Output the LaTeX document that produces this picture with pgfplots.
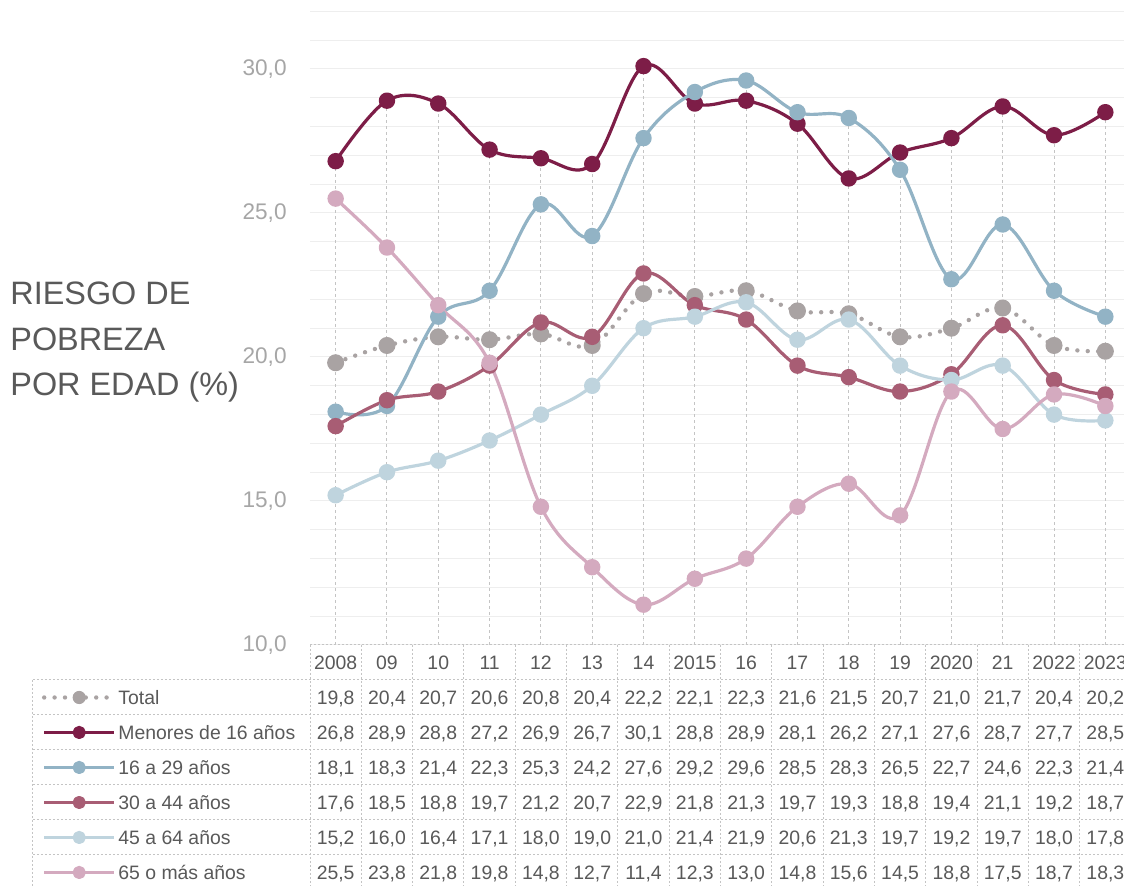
\documentclass[border=0pt]{standalone}
\usepackage{fontspec}
\setmainfont{Liberation Sans}
\usepackage{pgfplots}
\usepackage{pgfplotstable}
\pgfplotsset{compat=1.18}

\definecolor{cTot}{HTML}{A9A3A3}
\definecolor{cMen}{HTML}{7D1D47}
\definecolor{c16}{HTML}{92B3C5}
\definecolor{c30}{HTML}{A85D74}
\definecolor{c45}{HTML}{BFD4DE}
\definecolor{c65}{HTML}{D4AABF}
\definecolor{txtc}{HTML}{595959}
\definecolor{tickc}{HTML}{A6A6A6}
\definecolor{gridc}{HTML}{EEEEEE}
\definecolor{dropc}{HTML}{C4C4C4}

\newcommand\tfont{\fontsize{9.7pt}{11pt}\selectfont}
\newcommand\titlefont{\fontsize{16.2pt}{20pt}\selectfont}

\pgfplotstableread{
x lab total men a16 a30 a45 a65
0 2008 19.8 26.8 18.1 17.6 15.2 25.5
1 09 20.4 28.9 18.3 18.5 16.0 23.8
2 10 20.7 28.8 21.4 18.8 16.4 21.8
3 11 20.6 27.2 22.3 19.7 17.1 19.8
4 12 20.8 26.9 25.3 21.2 18.0 14.8
5 13 20.4 26.7 24.2 20.7 19.0 12.7
6 14 22.2 30.1 27.6 22.9 21.0 11.4
7 2015 22.1 28.8 29.2 21.8 21.4 12.3
8 16 22.3 28.9 29.6 21.3 21.9 13.0
9 17 21.6 28.1 28.5 19.7 20.6 14.8
10 18 21.5 26.2 28.3 19.3 21.3 15.6
11 19 20.7 27.1 26.5 18.8 19.7 14.5
12 2020 21.0 27.6 22.7 19.4 19.2 18.8
13 21 21.7 28.7 24.6 21.1 19.7 17.5
14 2022 20.4 27.7 22.3 19.2 18.0 18.7
15 2023 20.2 28.5 21.4 18.7 17.8 18.3
}\data

\begin{document}
\begin{tikzpicture}[x=0.5pt,y=0.5pt]
\begin{axis}[
  at={(0,0)}, anchor=south west,
  scale only axis, width=410.5pt, height=316.8pt,
  xmin=-0.5, xmax=15.5, ymin=10, ymax=32,
  xtick=\empty,
  ytick={10,15,20,25,30}, minor ytick={11,...,32},
  ymajorgrids, yminorgrids,
  major grid style={gridc, line width=0.5pt},
  minor grid style={gridc, line width=0.5pt},
  axis line style={draw=none},
  major tick length=0pt, minor tick length=0pt,
  yticklabel style={font=\fontsize{11.3pt}{13pt}\selectfont, text=tickc, inner sep=0pt, xshift=-11.5pt,
     /pgf/number format/use comma, /pgf/number format/fixed, /pgf/number format/fixed zerofill,
     /pgf/number format/precision=1, /pgf/number format/assume math mode=true},
  legend style={at={(axis description cs:-0.32643,-0.05524)}, anchor=north west, draw=none, fill=none,
     inner sep=0pt, outer sep=0pt, row sep=0pt, column sep=1pt, font=\tfont, text=txtc,
     nodes={inner sep=0pt, text height=12.15pt, text depth=5.35pt}},
  legend cell align=left,
  legend image code/.code={\draw[#1, every mark/.append style={scale=0.76}, mark repeat=2, mark phase=2] plot coordinates {(0pt,0pt) (17.5pt,0pt) (35pt,0pt)};},
  smooth, tension=0.6,
  every axis plot/.append style={line join=round},
]
\addplot[forget plot, ycomb, draw=dropc, line width=0.5pt, dash pattern=on 1.5pt off 1.5pt, no markers]
  table[x=x, y expr={max(\thisrow{men},\thisrow{a16})}]{\data};
\addplot[cTot, line width=2.2pt, line cap=round, dash pattern=on 0pt off 5.2pt, mark=*, mark size=4pt,
  mark options={solid, fill=cTot, draw=cTot, line width=0.5pt}] table[x=x,y=total]{\data};
\addlegendentry{Total}
\addplot[cMen, line width=1.6pt, mark=*, mark size=3.3pt, mark options={solid, fill=cMen}] table[x=x,y=men]{\data};
\addlegendentry{Menores de 16 años}
\addplot[c16, line width=1.6pt, mark=*, mark size=3.3pt, mark options={solid, fill=c16}] table[x=x,y=a16]{\data};
\addlegendentry{16 a 29 años}
\addplot[c30, line width=1.6pt, mark=*, mark size=3.3pt, mark options={solid, fill=c30}] table[x=x,y=a30]{\data};
\addlegendentry{30 a 44 años}
\addplot[c45, line width=1.6pt, mark=*, mark size=3.3pt, mark options={solid, fill=c45}] table[x=x,y=a45]{\data};
\addlegendentry{45 a 64 años}
\addplot[c65, line width=1.6pt, mark=*, mark size=3.3pt, mark options={solid, fill=c65}] table[x=x,y=a65]{\data};
\addlegendentry{65 o más años}
\end{axis}

% table grid
\tikzset{tline/.style={draw=dropc, line width=0.5pt, dash pattern=on 1pt off 1pt}}
\draw[tline] (0,0) -- (821,0);
\foreach \k in {1,...,7} \draw[tline] (-277,{-35*\k}) -- (821,{-35*\k});
\foreach \r in {0,...,16} \draw[tline] ({\r*51.3125},0) -- ({\r*51.3125},-245);
\draw[tline] (-277,-35) -- (-277,-245);

% table text
\foreach \r in {0,...,15} {
  \pgfplotstablegetelem{\r}{lab}\of\data
  \node[font=\tfont, text=txtc, anchor=base, inner sep=0pt] at ({(\r+0.5)*51.3125}, {-17.5-6.9}) {\pgfplotsretval};
  \foreach \c [count=\k] in {total,men,a16,a30,a45,a65} {
    \pgfplotstablegetelem{\r}{\c}\of\data
    \node[font=\tfont, text=txtc, anchor=base, inner sep=0pt] at ({(\r+0.5)*51.3125}, {-17.5-35*\k-6.9})
      {\pgfmathprintnumber[use comma, fixed, fixed zerofill, precision=1, assume math mode=true]{\pgfplotsretval}};
  }
}

% y title
\node[font=\titlefont, text=txtc, anchor=base west, inner sep=0pt] at (-300,340) {RIESGO DE};
\node[font=\titlefont, text=txtc, anchor=base west, inner sep=0pt] at (-300,294.5) {POBREZA};
\node[font=\titlefont, text=txtc, anchor=base west, inner sep=0pt] at (-300,249) {POR EDAD (\%)};

\pgfresetboundingbox
\useasboundingbox (-310,-241) rectangle (814,645);
\end{tikzpicture}
\end{document}
